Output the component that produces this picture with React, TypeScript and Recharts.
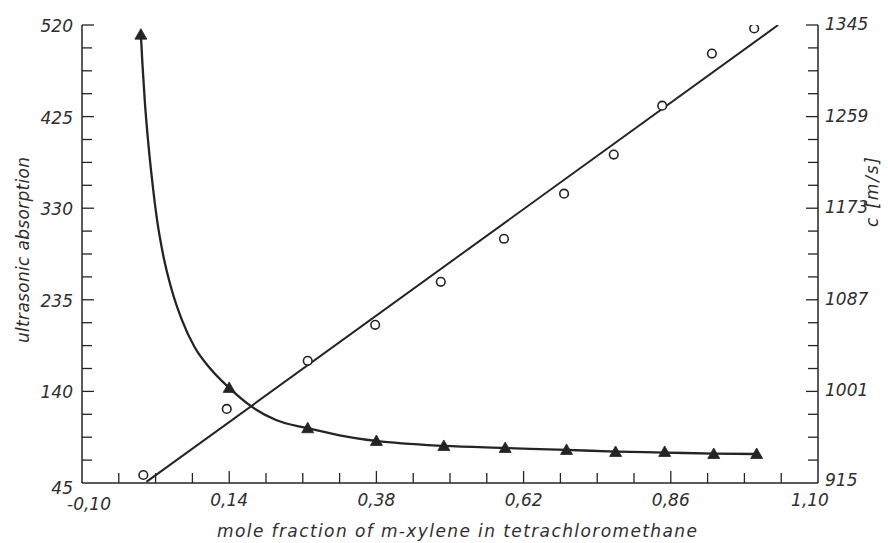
import React from 'react';
import { ComposedChart, Line, Scatter, XAxis, YAxis } from 'recharts';

// ---- tick labels (major ticks) ----
const xMajorTicks = [-0.1, 0.14, 0.38, 0.62, 0.86, 1.1];
const absMajorTicks = [45, 140, 235, 330, 425, 520];
const speedMajorTicks = [915, 1001, 1087, 1173, 1259, 1345];

// ---- measured ultrasonic absorption (triangles) ----
const absorptionX = [-0.004, 0.14, 0.268, 0.38, 0.49, 0.59, 0.69, 0.77, 0.85, 0.93, 1.0];
const absorptionY = [510, 143.6, 101.8, 88.6, 83.4, 81.3, 79.3, 77.2, 77.2, 75.1, 75.1];

// ---- hand-drawn absorption curve ----
const curveX = [-0.004, -0.0015, 0.0025, 0.008, 0.0145, 0.0223, 0.0325, 0.046, 0.063, 0.0835, 0.108, 0.14, 0.1772, 0.2163, 0.268, 0.32, 0.38, 0.49, 0.59, 0.69, 0.77, 0.85, 0.93, 1.0];
const curveY = [510, 480, 440, 398, 358, 318.1, 281, 246, 214, 186, 164.5, 143.6, 123.9, 110.4, 101.8, 94.5, 88.6, 83.4, 81.3, 79.3, 77.6, 76.6, 75.5, 75.1];

// ---- measured sound velocity c [m/s] (circles) ----
const speedX = [0.0, 0.136, 0.268, 0.378, 0.485, 0.588, 0.686, 0.767, 0.846, 0.927, 0.996];
const speedY = [922.5, 984.5, 1029.7, 1063.5, 1103.9, 1144.3, 1186.6, 1223.3, 1269.3, 1318.2, 1341.7];

// ---- fitted straight line for c ----
const speedLineX = [0.005, 1.035];
const speedLineY = [916, 1345];

const absorptionPoints = absorptionX.map((x, i) => ({ x, a: absorptionY[i] }));
const absorptionCurve = curveX.map((x, i) => ({ x, a: curveY[i] }));
const speedPoints = speedX.map((x, i) => ({ x, c: speedY[i] }));
const speedLine = speedLineX.map((x, i) => ({ x, c: speedLineY[i] }));

const FONT = '"DejaVu Sans", Verdana, sans-serif';
const INK = '#242424';
const TEXT = '#2e2e2e';

function subdivide(majors: number[], parts: number): number[] {
  const out: number[] = [];
  for (let i = 0; i < majors.length - 1; i++) {
    for (let k = 0; k < parts; k++) {
      out.push(Math.round((majors[i] + ((majors[i + 1] - majors[i]) * k) / parts) * 10000) / 10000);
    }
  }
  out.push(majors[majors.length - 1]);
  return out;
}

const xTicks = subdivide(xMajorTicks, 4);
const absTicks = subdivide(absMajorTicks, 4);
const speedTicks = subdivide(speedMajorTicks, 4);

const isMajor = (v: number, arr: number[]) => arr.some((m) => Math.abs(m - v) < 1e-6);
const fmtX = (v: number) => v.toFixed(2).replace('.', ',');

const labelStyle = { fontFamily: FONT, fontStyle: 'italic' as const, fontSize: 17, fill: TEXT };

const XTick = (props: any) => {
  const { x, y, payload } = props;
  const v = payload.value;
  const major = isMajor(v, xMajorTicks);
  const isFirst = Math.abs(v - xMajorTicks[0]) < 1e-6;
  const isLast = Math.abs(v - xMajorTicks[xMajorTicks.length - 1]) < 1e-6;
  return (
    <g>
      {!isFirst && !isLast && (
        <line x1={x} x2={x} y1={y} y2={y - (major ? 12 : 10)} stroke={INK} strokeWidth={1.3} />
      )}
      {major && (
        <text
          x={x + (isLast ? -8 : isFirst ? 7 : 0)}
          y={y + (isFirst ? 21 : 17)}
          textAnchor="middle"
          dominantBaseline="central"
          {...labelStyle}
        >
          {fmtX(v)}
        </text>
      )}
    </g>
  );
};

const LeftTick = (props: any) => {
  const { x, y, payload } = props;
  const v = payload.value;
  const major = isMajor(v, absMajorTicks);
  const isBottom = Math.abs(v - absMajorTicks[0]) < 1e-6;
  return (
    <g>
      {!isBottom && <line x1={x} x2={x + (major ? 12 : 10)} y1={y} y2={y} stroke={INK} strokeWidth={1.3} />}
      {major && (
        <text x={x - 9} y={y + (isBottom ? 5 : 1)} textAnchor="end" dominantBaseline="central" {...labelStyle}>
          {String(v)}
        </text>
      )}
    </g>
  );
};

const RightTick = (props: any) => {
  const { x, y, payload } = props;
  const v = payload.value;
  const major = isMajor(v, speedMajorTicks);
  const isBottom = Math.abs(v - speedMajorTicks[0]) < 1e-6;
  return (
    <g>
      {!isBottom && <line x1={x} x2={x - (major ? 12 : 10)} y1={y} y2={y} stroke={INK} strokeWidth={1.3} />}
      {major && (
        <text x={x + 7} y={y - (isBottom ? 3 : 1)} textAnchor="start" dominantBaseline="central" {...labelStyle}>
          {String(v)}
        </text>
      )}
    </g>
  );
};

const Triangle = (props: any) => {
  const { cx, cy } = props;
  if (cx == null || cy == null) return null;
  return <path d={`M${cx},${cy - 6} L${cx + 6},${cy + 4.5} L${cx - 6},${cy + 4.5} Z`} fill={INK} stroke={INK} strokeWidth={0.8} />;
};

const Circle = (props: any) => {
  const { cx, cy } = props;
  if (cx == null || cy == null) return null;
  return <circle cx={cx} cy={cy} r={4.3} fill="#ffffff" stroke={INK} strokeWidth={1.6} />;
};

const XTitle = (props: any) => {
  const vb = props.viewBox || {};
  return (
    <text
      x={vb.x + vb.width / 2 + 7}
      y={vb.y + 48}
      textAnchor="middle"
      dominantBaseline="central"
      textLength={480}
      lengthAdjust="spacing"
      {...labelStyle}
    >
      mole fraction of m-xylene in tetrachloromethane
    </text>
  );
};

const LeftTitle = (props: any) => {
  const vb = props.viewBox || {};
  const cx = vb.x + 23;
  const cy = vb.y + vb.height / 2 - 4;
  return (
    <text
      x={cx}
      y={cy}
      transform={`rotate(-90 ${cx} ${cy})`}
      textAnchor="middle"
      dominantBaseline="central"
      textLength={186}
      lengthAdjust="spacing"
      {...labelStyle}
    >
      ultrasonic absorption
    </text>
  );
};

const RightTitle = (props: any) => {
  const vb = props.viewBox || {};
  const cx = vb.x + 54;
  const cy = vb.y + 167;
  return (
    <text
      x={cx}
      y={cy}
      transform={`rotate(-90 ${cx} ${cy})`}
      textAnchor="middle"
      dominantBaseline="central"
      textLength={70}
      lengthAdjust="spacing"
      {...labelStyle}
    >
      c [m/s]
    </text>
  );
};

export default function App() {
  return (
    <div style={{ position: 'absolute', left: 0, top: 0, width: 888, height: 543, background: '#ffffff' }}>
      <ComposedChart width={888} height={543} margin={{ top: 25, right: 0, bottom: 0, left: 0 }}>
        <XAxis
          type="number"
          dataKey="x"
          domain={[-0.1, 1.1]}
          ticks={xTicks}
          interval={0}
          tickSize={0}
          tickMargin={0}
          height={60}
          allowDataOverflow
          axisLine={{ stroke: INK, strokeWidth: 1.5 }}
          tickLine={false}
          tick={<XTick />}
          label={{ content: <XTitle /> } as any}
        />
        <YAxis
          yAxisId="abs"
          orientation="left"
          type="number"
          domain={[45, 520]}
          ticks={absTicks}
          interval={0}
          tickSize={0}
          tickMargin={0}
          width={82}
          allowDataOverflow
          axisLine={{ stroke: INK, strokeWidth: 1.5 }}
          tickLine={false}
          tick={<LeftTick />}
          label={{ content: <LeftTitle /> } as any}
        />
        <YAxis
          yAxisId="c"
          orientation="right"
          type="number"
          domain={[915, 1345]}
          ticks={speedTicks}
          interval={0}
          tickSize={0}
          tickMargin={0}
          width={70}
          allowDataOverflow
          axisLine={{ stroke: INK, strokeWidth: 1.5 }}
          tickLine={false}
          tick={<RightTick />}
          label={{ content: <RightTitle /> } as any}
        />
        <Line
          yAxisId="abs"
          data={absorptionCurve}
          dataKey="a"
          type="monotone"
          stroke={INK}
          strokeWidth={2.3}
          dot={false}
          activeDot={false}
          isAnimationActive={false}
        />
        <Scatter yAxisId="abs" data={absorptionPoints} dataKey="a" shape={Triangle} isAnimationActive={false} />
        <Line
          yAxisId="c"
          data={speedLine}
          dataKey="c"
          type="linear"
          stroke={INK}
          strokeWidth={2}
          dot={false}
          activeDot={false}
          isAnimationActive={false}
        />
        <Scatter yAxisId="c" data={speedPoints} dataKey="c" shape={Circle} isAnimationActive={false} />
      </ComposedChart>
    </div>
  );
}
